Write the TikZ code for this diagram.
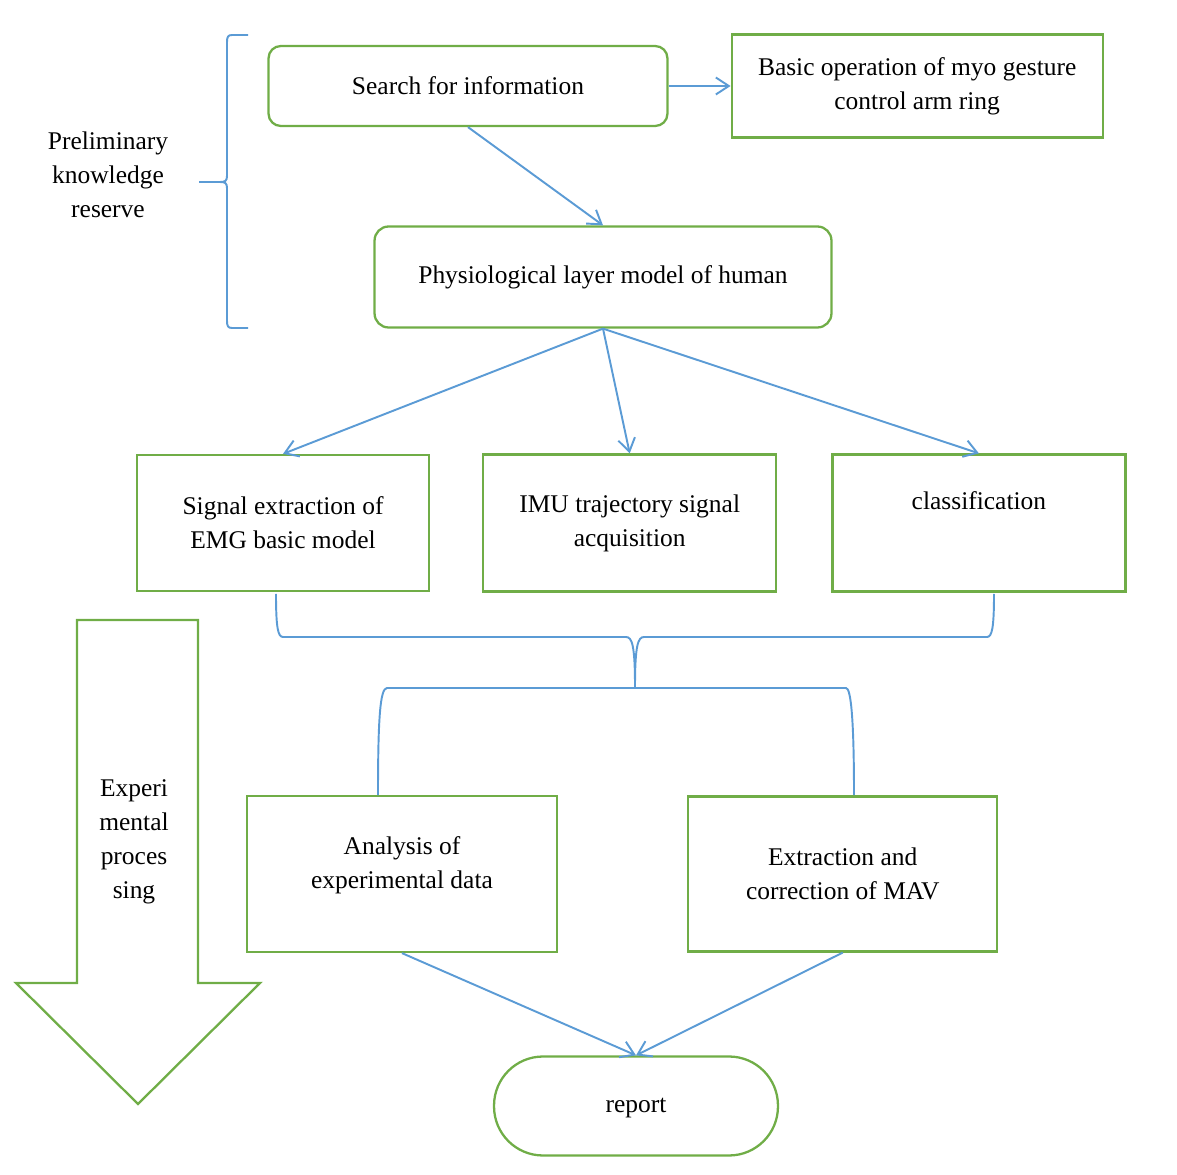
\documentclass[tikz,border=0pt]{standalone}
\usepackage{fontspec}
\setmainfont{Liberation Serif}
\usetikzlibrary{arrows.meta, positioning}

\definecolor{flowgreen}{RGB}{112,173,71}
\definecolor{flowblue}{RGB}{91,155,213}

\begin{document}
\begin{tikzpicture}[
    x=0.02cm, y=-0.02cm,
    >={Straight Barb[length=2.6mm, width=3.4mm]},
    every node/.style={font=\fontsize{14.5}{19.3}\selectfont},
    stepbox/.style={
        rectangle, draw=flowgreen, line width=1.3pt,
        align=center, inner sep=2pt
    },
    roundbox/.style={stepbox, rounded corners=7pt},
    link/.style={->, draw=flowblue, line width=1.1pt},
    bracket/.style={draw=flowblue, line width=1.1pt},
]
\useasboundingbox (0,0) rectangle (1177,1175);

% ── Top row ──
\node[roundbox, minimum width=7.98cm, minimum height=1.6cm] (search) at (468,86) {Search for information};
\node[stepbox, minimum width=7.42cm, minimum height=2.06cm, right=1.24cm of search] (basic) {Basic operation of myo gesture\\control arm ring};
\node[roundbox, rounded corners=8pt, minimum width=9.14cm, minimum height=2.02cm] (physio) at (603,277) {Physiological layer model of human};

% ── Middle row ──
\node[stepbox, minimum width=5.84cm, minimum height=2.72cm] (emg) at (283,523) {Signal extraction of\\EMG basic model};
\node[stepbox, minimum width=5.86cm, minimum height=2.74cm, right=1.04cm of emg] (imu) {IMU trajectory signal\\acquisition};
\node[stepbox, minimum width=5.86cm, minimum height=2.74cm, right=1.08cm of imu] (classify) {classification\\\strut};

% ── Bottom row ──
\node[stepbox, minimum width=6.2cm, minimum height=3.12cm] (analysis) at (402,874) {Analysis of\\experimental data\\[-12pt]\strut};
\node[stepbox, minimum width=6.18cm, minimum height=3.1cm, right=2.58cm of analysis] (mav) {Extraction and\\correction of MAV};
\node[roundbox, rounded corners=0.98cm, minimum width=5.68cm, minimum height=1.98cm] (report) at (636,1106) {\raisebox{-10pt}{report}};

% ── Side labels ──
\node[align=center] (prelim) at (108,175) {Preliminary\\knowledge\\reserve};
\draw[draw=flowgreen, line width=1.3pt] (77,620) -- (198,620) -- (198,983) -- (260,983) -- (138,1104) -- (16,983) -- (77,983) -- cycle;
\node[align=center] (process) at (134,842) {Experi\\mental\\proces\\sing};

% ── Braces ──
\draw[bracket] (248,35) -- (232,35) .. controls (228,35) and (227,37) .. (227,42) -- (227,176) .. controls (227,181) and (225,182) .. (220,182) -- (199,182);
\draw[bracket] (199,182) -- (220,182) .. controls (225,182) and (227,183) .. (227,188) -- (227,321) .. controls (227,326) and (228,328) .. (232,328) -- (248,328);

\coordinate (join) at (635,687);
\draw[bracket] (276,594) .. controls (276,628) and (278,637) .. (283,637) -- (626,637) .. controls (632,637) and (635,645) .. (join);
\draw[bracket] (join) .. controls (635,645) and (638,637) .. (644,637) -- (987,637) .. controls (992,637) and (994,628) .. (994,594);
\draw[bracket] (378,795) .. controls (378,720) and (380,688) .. (387,688) -- (846,688) .. controls (851,688) and (854,720) .. (854,795);

% ── Edges ──
\draw[link] (search.east) -- (basic.west);
\draw[link] (search.south) -- (physio.north);
\draw[link] (physio.south) -- (emg.north);
\draw[link] (physio.south) -- (imu.north);
\draw[link] (physio.south) -- (classify.north);
\draw[link] (analysis.south) -- (report.north);
\draw[link] (mav.south) -- (report.north);

\end{tikzpicture}
\end{document}
